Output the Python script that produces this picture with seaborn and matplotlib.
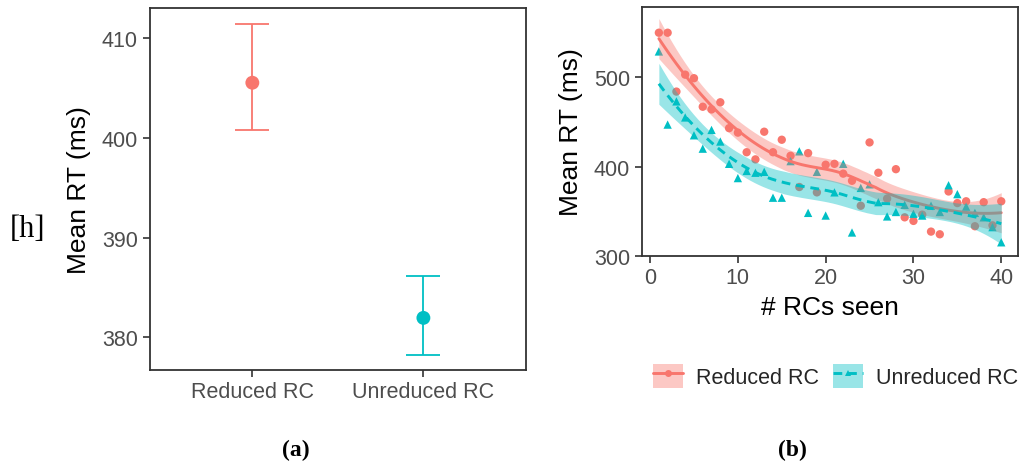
import numpy as np
import pandas as pd
import matplotlib
matplotlib.use("Agg")
import matplotlib.pyplot as plt
from matplotlib.patches import Patch
from matplotlib.lines import Line2D
import seaborn as sns

# ---------------- data ----------------
conditions = ["Reduced RC", "Unreduced RC"]
colors = {"Reduced RC": "#F8766D", "Unreduced RC": "#00BFC4"}

# panel (a): mean RT with error bars
mean_rt = [405.55, 381.95]
err_low = [400.8, 378.25]
err_high = [411.45, 386.15]

# panel (b): mean RT by number of RCs seen
n_seen = list(range(1, 41))
rt_reduced = [550, 550, 484, 503, 499, 467, 464, 472, 443, 438,
              416, 408, 439, 416, 430, 412, 377, 415, 371, 402,
              403, 392, 384, 356, 427, 393, 364, 397, 343, 339,
              346, 327, 324, 372, 359, 361, 333, 360, 334, 361]
rt_unreduced = [529, 447, 473, 455, 435, 420, 441, 428, 403, 387,
                395, 393, 394, 365, 365, 406, 417, 348, 394, 345,
                371, 403, 326, 376, 380, 360, 344, 349, 357, 347,
                345, 356, 349, 379, 369, 355, 348, 343, 332, 315]

y_ticks_a = [380, 390, 400, 410]
x_ticks_b = [0, 10, 20, 30, 40]
y_ticks_b = [300, 400, 500]


# ---------------- loess (like ggplot geom_smooth) ----------------
def loess_fit(x, y, xq, span=0.75):
    x = np.asarray(x, float)
    y = np.asarray(y, float)
    n = len(x)
    q = int(np.floor(span * n))

    def row(x0):
        d = np.abs(x - x0)
        h = np.sort(d)[q - 1] * 1.0001
        w = np.clip(1 - (d / h) ** 3, 0, None) ** 3
        X = np.column_stack([np.ones(n), x - x0, (x - x0) ** 2])
        XtW = X.T * w
        return np.linalg.solve(XtW @ X, XtW)[0]

    L = np.array([row(v) for v in x])
    res = y - L @ y
    IL = np.eye(n) - L
    M = IL.T @ IL
    d1 = np.trace(M)
    d2 = np.trace(M @ M)
    sigma = np.sqrt(np.sum(res ** 2) / d1)
    df = d1 ** 2 / d2
    z = 1.959964
    t = z + (z ** 3 + z) / (4 * df) + (5 * z ** 5 + 16 * z ** 3 + 3 * z) / (96 * df ** 2)
    Lq = np.array([row(v) for v in xq])
    fit = Lq @ y
    se = sigma * np.sqrt(np.sum(Lq ** 2, axis=1))
    return fit, fit - t * se, fit + t * se


# ---------------- style ----------------
sns.set_theme(style="white")
plt.rcParams["font.family"] = ["Liberation Sans", "DejaVu Sans"]
plt.rcParams["axes.edgecolor"] = "#333333"
plt.rcParams["axes.linewidth"] = 1.3
plt.rcParams["xtick.color"] = "#333333"
plt.rcParams["ytick.color"] = "#333333"
plt.rcParams["xtick.labelcolor"] = "#4D4D4D"
plt.rcParams["ytick.labelcolor"] = "#4D4D4D"

fig = plt.figure(figsize=(10.24, 4.64), dpi=100)
fig.patch.set_facecolor("white")

tick_fs = 15.5
title_fs = 19

# ---------------- panel (a) ----------------
ax1 = fig.add_axes([0.1462, 0.2011, 0.3675, 0.7795])
df_a = pd.DataFrame({"cond": conditions, "mean": mean_rt,
                     "lo": err_low, "hi": err_high})
for i, r in df_a.iterrows():
    ax1.errorbar([i], [r["mean"]],
                 yerr=[[r["mean"] - r["lo"]], [r["hi"] - r["mean"]]],
                 fmt="none", ecolor=colors[r["cond"]], elinewidth=1.3,
                 capsize=12, capthick=1.3, zorder=2)
sns.scatterplot(data=df_a, x="cond", y="mean", hue="cond", palette=colors,
                s=100, linewidth=0, legend=False, ax=ax1, zorder=3)
ax1.set_xlim(-0.6, 1.6)
ax1.set_ylim(376.75, 413.05)
ax1.set_yticks(y_ticks_a)
ax1.set_xlabel("")
ax1.set_ylabel("Mean RT (ms)", fontsize=title_fs, color="black", labelpad=8)
ax1.tick_params(axis="both", which="major", length=5, width=1.2,
                labelsize=tick_fs, bottom=True, left=True, pad=3.5)

# ---------------- panel (b) ----------------
ax2 = fig.add_axes([0.6267, 0.4468, 0.3678, 0.5353])
df_b = pd.DataFrame({
    "n": n_seen * 2,
    "rt": rt_reduced + rt_unreduced,
    "cond": [conditions[0]] * len(n_seen) + [conditions[1]] * len(n_seen),
})
sns.scatterplot(data=df_b, x="n", y="rt", hue="cond", style="cond",
                palette=colors,
                markers={"Reduced RC": "o", "Unreduced RC": "^"},
                s=36, linewidth=0, legend=False, ax=ax2, zorder=2)

grid = np.linspace(min(n_seen), max(n_seen), 80)
line_styles = {"Reduced RC": "-", "Unreduced RC": (0, (3, 2))}
for k, cond in enumerate(conditions):
    sub = df_b[df_b["cond"] == cond]
    fit, lo, hi = loess_fit(sub["n"].values, sub["rt"].values, grid)
    ax2.fill_between(grid, lo, hi, color=colors[cond], alpha=0.4,
                     linewidth=0, zorder=3 + 2 * k)
    sns.lineplot(x=grid, y=fit, color=colors[cond], linewidth=2.1,
                 linestyle=line_styles[cond], ax=ax2, zorder=4 + 2 * k)

ax2.set_xlim(-0.95, 41.95)
ax2.set_ylim(300, 578.5)
ax2.set_xticks(x_ticks_b)
ax2.set_yticks(y_ticks_b)
ax2.set_xlabel("# RCs seen", fontsize=title_fs, color="black", labelpad=5)
ax2.set_ylabel("Mean RT (ms)", fontsize=title_fs, color="black", labelpad=8)
ax2.tick_params(axis="both", which="major", length=5, width=1.2,
                labelsize=tick_fs, bottom=True, left=True, pad=3.5)

for ax in (ax1, ax2):
    for sp in ax.spines.values():
        sp.set_visible(True)
        sp.set_color("#333333")
        sp.set_linewidth(1.3)

# legend
handles = []
for cond in conditions:
    patch = Patch(facecolor=colors[cond], alpha=0.4, edgecolor="none")
    ln = Line2D([], [], color=colors[cond], linewidth=2.1,
                linestyle=line_styles[cond],
                marker="o" if cond == "Reduced RC" else "^", markersize=5,
                markeredgewidth=0)
    handles.append((patch, ln))
fig.legend(handles, conditions, loc="center", bbox_to_anchor=(0.816, 0.1875),
           ncol=2, frameon=False, fontsize=tick_fs, handlelength=1.4,
           handleheight=1.4, handletextpad=0.6, columnspacing=0.65,
           borderpad=0.2)

# annotations
fig.text(28 / 1024, 1 - 230 / 464, "[h]", family=["Liberation Serif", "DejaVu Serif"],
         fontsize=22, ha="center", va="center", color="black")
fig.text(296 / 1024, 1 - 450 / 464, "(a)", family=["Liberation Serif", "DejaVu Serif"],
         fontsize=17, fontweight="bold", ha="center", va="center", color="black")
fig.text(792 / 1024, 1 - 450 / 464, "(b)", family=["Liberation Serif", "DejaVu Serif"],
         fontsize=17, fontweight="bold", ha="center", va="center", color="black")

fig.savefig("out.png", dpi=100, facecolor="white")
